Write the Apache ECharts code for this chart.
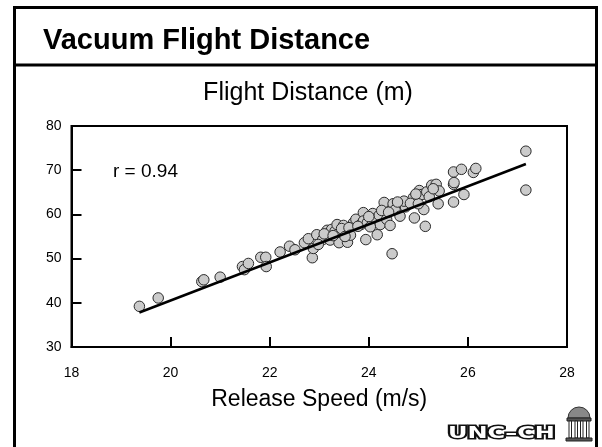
<!DOCTYPE html>
<html>
<head>
<meta charset="utf-8">
<script src="https://cdn.jsdelivr.net/npm/echarts@6/dist/echarts.min.js"></script>
<style>html,body{margin:0;padding:0;background:#fff;}#c{width:602px;height:447px;}</style>
</head>
<body>
<div id="c"></div>
<script>
// Release speed (m/s)
var speeds = [19.37,19.75,20.63,20.67,21.00,21.45,21.49,21.57,21.82,21.92,21.93,22.21,22.40,22.51,22.70,22.78,22.86,22.88,22.95,23.07,
  23.16,23.22,23.25,23.32,23.36,23.40,23.49,23.55,23.57,23.69,23.74,23.84,23.89,23.89,23.94,23.97,24.08,24.10,24.17,24.21,
  24.23,24.31,24.36,24.43,24.47,24.49,24.53,24.63,24.71,24.74,24.71,24.90,24.92,25.02,25.07,25.11,25.14,25.17,25.27,25.36,
  25.40,25.42,25.71,25.71,25.71,25.72,25.87,25.92,26.11,26.16,27.17,27.17,
  23.10,23.28,23.45,23.60,23.63,23.78,24.00,24.03,24.26,24.40,24.58,24.84,25.00,25.22,25.30,24.95,22.98,23.52];
// Flight distance (m)
var distances = [39.2,41.1,44.8,45.2,45.8,48.2,47.5,48.9,50.3,50.3,48.2,51.5,52.8,52.0,53.6,54.5,50.2,52.3,55.4,54.3,
  56.4,54.2,56.6,56.2,57.7,53.6,57.5,56.2,53.7,58.1,58.9,57.7,60.4,58.5,54.3,58.1,60.2,58.9,55.4,59.8,
  57.7,62.7,58.9,57.5,51.1,62.4,61.0,59.6,62.3,61.7,63.0,63.8,59.2,65.4,64.5,61.1,57.3,65.1,66.6,66.8,
  62.4,65.3,69.6,66.8,62.8,67.2,70.2,64.5,69.5,70.4,74.3,65.5,
  55.6,55.2,56.8,57.0,55.3,57.3,59.5,57.2,60.9,60.5,62.8,62.5,62.4,64.0,65.8,64.6,53.2,55.0];
// Regression line end points
var fitX = [19.37, 27.17];
var fitY = [37.8, 71.4];
var rText = 'r = 0.94';

var pts = speeds.map(function (s, i) { return [s, distances[i]]; });
var fit = fitX.map(function (x, i) { return [x, fitY[i]]; });

var FONT = "'Liberation Sans', Arial, sans-serif";
var chart = echarts.init(document.getElementById('c'), null, {renderer: 'canvas'});
chart.setOption({
  backgroundColor: '#fff',
  animation: false,
  grid: {left: 71.5, top: 126, right: 35, bottom: 100, show: true, borderColor: '#000', borderWidth: 2, backgroundColor: 'transparent'},
  xAxis: {
    type: 'value', min: 18, max: 28, interval: 2,
    axisLine: {show: true, lineStyle: {color: '#000', width: 2}},
    axisTick: {show: true, inside: true, length: 10, lineStyle: {color: '#000', width: 2}},
    axisLabel: {color: '#000', fontSize: 14, fontFamily: FONT, margin: 19},
    splitLine: {show: false},
    name: 'Release Speed (m/s)', nameLocation: 'middle', nameGap: 41,
    nameTextStyle: {color: '#000', fontSize: 23, fontFamily: FONT}
  },
  yAxis: {
    type: 'value', min: 30, max: 80, interval: 10,
    axisLine: {show: true, lineStyle: {color: '#000', width: 2}},
    axisTick: {show: true, inside: true, length: 10, lineStyle: {color: '#000', width: 2}},
    axisLabel: {color: '#000', fontSize: 14, fontFamily: FONT, margin: 10},
    splitLine: {show: false}
  },
  series: [
    {type: 'scatter', data: pts, symbol: 'circle', symbolSize: 10.5,
     itemStyle: {color: '#cbcbcb', borderColor: '#2a2a2a', borderWidth: 1, opacity: 1}, z: 2},
    {type: 'line', data: fit, showSymbol: false, symbol: 'none',
     lineStyle: {color: '#000', width: 2.5}, z: 3}
  ],
  graphic: [
    {type: 'rect', shape: {x: 14.5, y: 7.5, width: 582, height: 470}, style: {fill: 'none', stroke: '#000', lineWidth: 3}, z: 10},
    {type: 'line', shape: {x1: 14, y1: 65, x2: 597, y2: 65}, style: {stroke: '#000', lineWidth: 3}, z: 10},
    {type: 'text', x: 43, y: 41, style: {text: 'Vacuum Flight Distance', font: "bold 29px 'Liberation Sans', Arial, sans-serif", fill: '#000', align: 'left', verticalAlign: 'middle'}, z: 10},
    {type: 'text', x: 308, y: 93, style: {text: 'Flight Distance (m)', font: "25px 'Liberation Sans', Arial, sans-serif", fill: '#000', align: 'center', verticalAlign: 'middle'}, z: 10},
    {type: 'text', x: 113, y: 172, style: {text: rText, font: "19px 'Liberation Sans', Arial, sans-serif", fill: '#000', align: 'left', verticalAlign: 'middle'}, z: 10},
    {type: 'text', x: 448, y: 434.5, scaleX: 1.6, style: {text: 'UNC\u2013CH', font: "900 15px 'DejaVu Sans', sans-serif", fill: '#fff', stroke: '#111', lineWidth: 3, align: 'left', verticalAlign: 'middle'}, z: 10},
    {type: 'group', x: 566, y: 410, z: 10, children: [
      {type: 'sector', shape: {cx: 13, cy: 8, r0: 0, r: 11, startAngle: Math.PI, endAngle: 2 * Math.PI}, style: {fill: '#888', stroke: '#333', lineWidth: 1}},
      {type: 'rect', shape: {x: 1, y: 8, width: 24, height: 3}, style: {fill: '#555', stroke: '#222', lineWidth: 1}},
      {type: 'rect', shape: {x: 3, y: 11, width: 2.5, height: 17}, style: {fill: '#fff', stroke: '#222', lineWidth: 1}},
      {type: 'rect', shape: {x: 9, y: 11, width: 2.5, height: 17}, style: {fill: '#fff', stroke: '#222', lineWidth: 1}},
      {type: 'rect', shape: {x: 14.5, y: 11, width: 2.5, height: 17}, style: {fill: '#fff', stroke: '#222', lineWidth: 1}},
      {type: 'rect', shape: {x: 20.5, y: 11, width: 2.5, height: 17}, style: {fill: '#fff', stroke: '#222', lineWidth: 1}},
      {type: 'rect', shape: {x: 0, y: 28, width: 26, height: 3}, style: {fill: '#555', stroke: '#222', lineWidth: 1}}
    ]}
  ]
});
</script>
</body>
</html>
